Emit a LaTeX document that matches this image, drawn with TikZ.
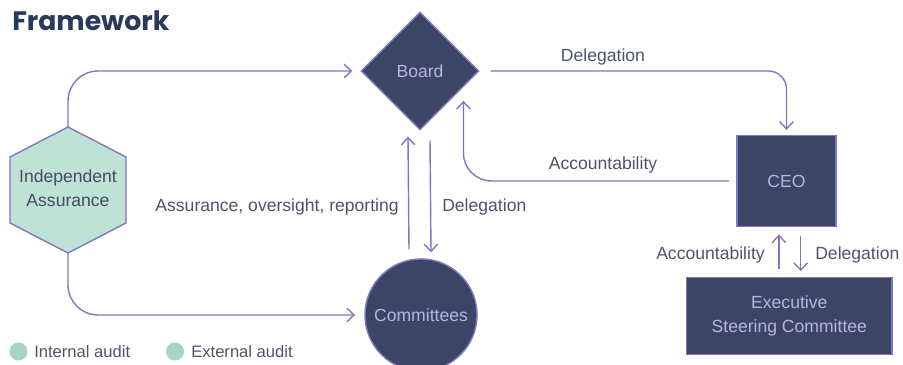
\documentclass[tikz,border=0pt]{standalone}
\usepackage{fontspec}
\setmainfont{Liberation Sans}
\newfontfamily\titlefont{Poppins}
\usetikzlibrary{shapes.geometric,arrows.meta}
\definecolor{navy}{HTML}{3B4667}
\definecolor{lilac}{HTML}{7D78C1}
\definecolor{mint}{HTML}{BFE2D7}
\definecolor{dotmint}{HTML}{A5D5C5}
\definecolor{ink}{HTML}{4B5569}
\definecolor{pale}{HTML}{B7B4E1}
\definecolor{titleblue}{HTML}{283A5B}
\tikzset{
  body/.style={draw=lilac, line width=1pt, fill=navy, text=pale, inner sep=0pt,
    font=\fontsize{12.5}{17}\selectfont, align=center},
  lbl/.style={text=ink, inner sep=0pt, font=\fontsize{12.5}{17}\selectfont},
  link/.style={draw=lilac, line width=1pt, ->},
  >={Straight Barb[length=1.8mm,width=3.4mm]},
}
\begin{document}
\begin{tikzpicture}[x=0.025cm, y=-0.025cm]
        \clip (0,0) rectangle (903,365);
        
        \node [anchor=base west, inner sep=0pt, text=titleblue, font=\titlefont\bfseries\fontsize{19}{22}\selectfont] (ttl) at (12,30.5) {Framework};
        
        \filldraw [fill=mint, draw=lilac, line width=1pt] (68,127) -- (126,157) -- (126,223) -- (68,253) -- (10,223) -- (10,157) -- cycle;
        \coordinate (iat) at (68,127);
        \coordinate (iab) at (68,253);
        \node [lbl, align=center, text=ink!90!black] (ia) at (68,188) {Independent\\Assurance};
        
        \node [body, diamond, minimum size=2.95cm] (bd) at (420,71) {Board};
        \node [body, circle, minimum size=2.8cm] (cm) at (421,315) {Committees};
        \node [body, minimum width=2.48cm, minimum height=2.28cm] (ceo) at (786.5,181) {CEO};
        \node [body, minimum width=5.13cm, minimum height=1.91cm] (esc) at (789.3,316) {Executive\\Steering Committee};
        
        \begin{scope}[link]
        \draw [rounded corners=0.75cm, shorten >=0.2cm] (iat) |- (bd.west);
        \draw [rounded corners=0.75cm, shorten >=0.23cm] (iab) |- (cm.west);
        \draw ([xshift=-0.3cm, yshift=0.225cm]cm.north) -- ([xshift=-0.3cm, yshift=-0.15cm]bd.south);
        \draw ([xshift=0.25cm, yshift=-0.25cm]bd.south) -- ([xshift=0.25cm, yshift=0.15cm]cm.north);
        \draw [rounded corners=0.45cm] ([xshift=0.275cm]bd.east) -| ([yshift=0.12cm]ceo.north);
        \draw [rounded corners=0.7cm] ([xshift=-0.175cm]ceo.west) -| ([xshift=0.34cm]bd.south east);
        \draw ([xshift=-0.19cm, yshift=0.2cm]esc.north -| ceo.south) -- ([xshift=-0.19cm, yshift=-0.18cm]ceo.south);
        \draw ([xshift=0.355cm, yshift=-0.225cm]ceo.south) -- ([xshift=0.355cm, yshift=0.15cm]esc.north -| ceo.south);
        \end{scope}
        
        \node [lbl] (dl1) at (603,57) {Delegation};
        \node [lbl] (ac1) at (603,165) {Accountability};
        \node [lbl, anchor=east] (aor) at (399,207) {Assurance, oversight, reporting};
        \node [lbl, anchor=west] (dl2) at (442,207) {Delegation};
        \node [lbl, anchor=east] (ac2) at (765,255) {Accountability};
        \node [lbl, anchor=west] (dl3) at (815,255) {Delegation};
        
        \fill [dotmint] (18.5,351.5) circle (0.225cm) node (d1) {};
        \fill [dotmint] (175,351.5) circle (0.225cm) node (d2) {};
        \node [lbl, anchor=west, font=\fontsize{11.8}{14}\selectfont] (ina) at (34,352) {Internal audit};
        \node [lbl, anchor=west, font=\fontsize{11.8}{14}\selectfont] (exa) at (191,352) {External audit};
        
\end{tikzpicture}
\end{document}
